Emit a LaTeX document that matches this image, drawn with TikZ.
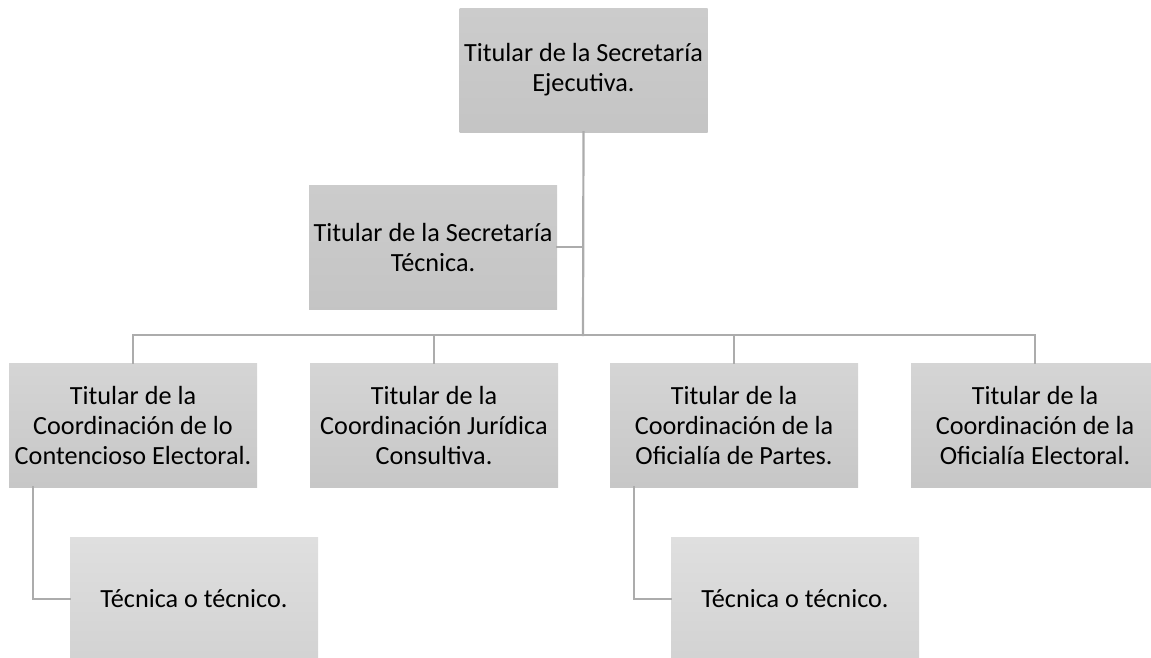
\documentclass[tikz,border=0pt]{standalone}
\usepackage{fontspec}
\setmainfont{Carlito}
\usetikzlibrary{positioning}
\usetikzlibrary{calc}

\begin{document}
\begin{tikzpicture}[line cap=rect,line join=miter,x=1pt,y=-1pt,
  cargo/.style={rectangle,minimum width=248pt,minimum height=124pt,inner sep=0pt,
    top color=gray!40,bottom color=gray!46,align=center,
    font=\fontsize{26.2}{30}\selectfont},
  apoyo/.style={cargo,minimum height=124pt,top color=gray!25,bottom color=gray!35},
  liga/.style={draw=gray!65,line width=2.2pt}]
\useasboundingbox (0,0) rectangle (1151,657);
\clip (0,0) rectangle (1151,657);
% cabeza
\node[cargo] (ejec) at (583.5,70) {Titular de la Secretaría\\Ejecutiva.};
\node[cargo] (tecn) at (433,247) {Titular de la Secretaría\\Técnica.};
% coordinaciones
\node[cargo,top color=gray!33,bottom color=gray!44] (cont) at (133,425) {Titular de la\\Coordinación de lo\\Contencioso Electoral.};
\node[cargo,top color=gray!33,bottom color=gray!44] (jur) at (434,425) {Titular de la\\Coordinación Jurídica\\Consultiva.};
\node[cargo,top color=gray!33,bottom color=gray!44] (part) at (734,425) {Titular de la\\Coordinación de la\\Oficialía de Partes.};
\node[cargo,top color=gray!33,bottom color=gray!44] (elec) at (1035,425) {Titular de la\\Coordinación de la\\Oficialía Electoral.};
% apoyo
\node[apoyo] (tec1) at (194,599) {Técnica o técnico.};
\node[apoyo] (tec2) at (795,599) {Técnica o técnico.};
% lineas
\coordinate (bus) at (583,335);
\draw[liga] (ejec.south) -- (bus);
\draw[liga] (tecn.east) -- (tecn.east -| bus);
\draw[liga] (cont.north) -- (cont.north |- bus) -- (elec.north |- bus) -- (elec.north);
\draw[liga] (jur.north) -- (jur.north |- bus);
\draw[liga] (part.north) -- (part.north |- bus);
\draw[liga] ($(cont.south west)+(24,0)$) |- (tec1.west);
\draw[liga] ($(part.south west)+(24,0)$) |- (tec2.west);
\end{tikzpicture}
\end{document}
